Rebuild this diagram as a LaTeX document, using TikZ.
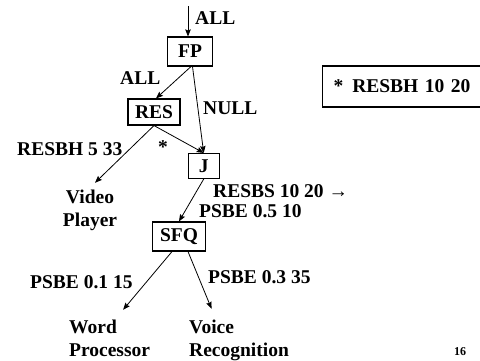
\documentclass[tikz,border=0pt]{standalone}
\usepackage{fontspec}
\setmainfont{Liberation Serif}
\usetikzlibrary{arrows.meta}
\begin{document}
\begin{tikzpicture}[x=1pt,y=-1pt,
  every node/.style={font=\fontsize{19.5}{23}\selectfont\bfseries},
  box/.style={draw,line width=1.1pt,inner sep=0pt},
  lbl/.style={inner sep=0pt,anchor=base west},
  arr/.style={line width=0.8pt,-{Stealth[length=7pt,width=5.5pt,inset=1pt]}}]
\useasboundingbox (0,0) rectangle (480,360);
% boxes
\node[box,minimum width=45pt,minimum height=29pt] (FP) at (190,51.5) {FP};
\node[box,minimum width=52pt,minimum height=26pt] (RES) at (154,112) {RES};
\node[box,minimum width=31pt,minimum height=25pt] (J) at (203.7,166) {J};
\node[box,minimum width=53pt,minimum height=29pt] (SFQ) at (179,236.5) {SFQ};
% leaves
\node[inner sep=0pt,anchor=base,align=center] (vp) at (90,226) {Video\\Player};
\node[lbl,align=left] (wp) at (69,356) {Word\\Processor};
\node[lbl,align=left] (vr) at (189,356) {Voice\\Recognition};
% labels
\node[lbl] (lall) at (195,24) {ALL};
\node[lbl] (lall2) at (120,84) {ALL};
\node[lbl] (lnull) at (203,114) {NULL};
\node[lbl] (lresbh) at (17,155) {RESBH 5 33};
\node[inner sep=0pt,anchor=base] (lstar) at (163,153) {*};
\node[lbl,align=left,font=\fontsize{19.5}{20}\selectfont\bfseries] (lrbs) at (199,217) {\hspace*{14pt}RESBS 10 20 →\\PSBE 0.5 10};
\node[lbl] (lp1) at (30,288) {PSBE 0.1 15};
\node[lbl] (lp3) at (208,283) {PSBE 0.3 35};
% legend
\node[draw,line width=1.1pt,anchor=west,inner xsep=11pt,inner ysep=0pt,
  text width=138pt,align=left,minimum height=41pt] (legend) at (322,86.5) {*\hspace{9pt}RESBH 10 20};
\node[lbl,font=\fontsize{12}{14}\selectfont\bfseries] (pnum) at (454,355) {16};
% connectors
\coordinate (top) at (188,6);
\draw[arr] (top) -- ([xshift=-2pt]FP.north);
\draw[arr] ([xshift=1pt]FP.south) -- ([xshift=2pt]RES.north);
\draw[arr] ([xshift=2.5pt]FP.south) -- (J.north);
\draw[arr] (RES.south) -- ([xshift=5pt,yshift=6.5pt]vp.north);
\draw[arr] (RES.south) -- (J.north);
\draw[arr] (J.south) -- (SFQ.north);
\draw[arr] ([xshift=-7pt]SFQ.south) -- ([xshift=13.5pt,yshift=9.5pt]wp.north);
\draw[arr] ([xshift=9pt]SFQ.south) -- ([xshift=-27.5pt,yshift=10.5pt]vr.north);
\end{tikzpicture}
\end{document}
